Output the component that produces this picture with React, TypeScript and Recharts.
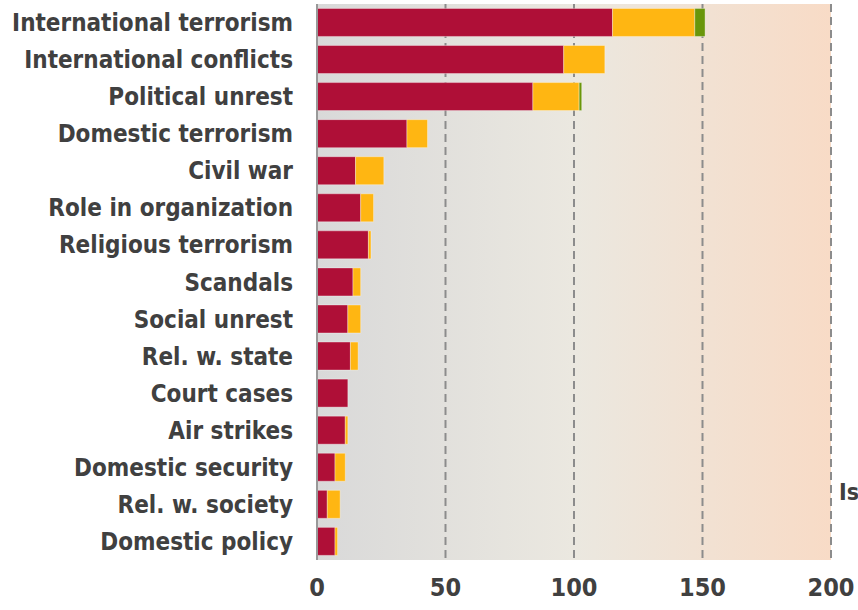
import React from 'react';
import { BarChart, Bar, XAxis, YAxis, CartesianGrid } from 'recharts';

const categories = [
  'International terrorism',
  'International conflicts',
  'Political unrest',
  'Domestic terrorism',
  'Civil war',
  'Role in organization',
  'Religious terrorism',
  'Scandals',
  'Social unrest',
  'Rel. w. state',
  'Court cases',
  'Air strikes',
  'Domestic security',
  'Rel. w. society',
  'Domestic policy',
];
const seriesRed = [115, 96, 84, 35, 15, 17, 20, 14, 12, 13, 12, 11, 7, 4, 7];
const seriesYellow = [32, 16, 18, 8, 11, 5, 1, 3, 5, 3, 0, 1, 4, 5, 1];
const seriesGreen = [4, 0, 1, 0, 0, 0, 0, 0, 0, 0, 0, 0, 0, 0, 0];
const xTicks = [0, 50, 100, 150, 200];

const data = categories.map((name, i) => ({
  name,
  red: seriesRed[i],
  yellow: seriesYellow[i],
  green: seriesGreen[i],
}));

const FONT = '"DejaVu Sans Condensed", "DejaVu Sans", sans-serif';
const TEXT = '#404040';

export default function App() {
  return (
    <div style={{ position: 'absolute', left: 0, top: 0, width: 858, height: 610, background: '#fff', overflow: 'hidden' }}>
      <BarChart
        width={858}
        height={610}
        data={data}
        layout="vertical"
        margin={{ top: 4, right: 27, bottom: 0, left: 0 }}
        barCategoryGap="12%"
      >
        <defs>
          <linearGradient id="bgGrad" x1="0" y1="0" x2="1" y2="0">
            <stop offset="0%" stopColor="#d9d9d9" />
            <stop offset="50%" stopColor="#ebe8e0" />
            <stop offset="100%" stopColor="#f8dbc6" />
          </linearGradient>
        </defs>
        <CartesianGrid
          horizontal={false}
          vertical={true}
          fill="url(#bgGrad)"
          fillOpacity={1}
          stroke="#8c8c8c"
          strokeDasharray="8 5"
          strokeWidth={2}
        />
        <XAxis
          type="number"
          domain={[0, 200]}
          ticks={xTicks}
          axisLine={false}
          tickLine={false}
          tickSize={0}
          tickMargin={18}
          height={50}
          tick={{ fill: TEXT, fontSize: 25, fontWeight: 700, fontFamily: FONT }}
        />
        <YAxis
          type="category"
          dataKey="name"
          width={317}
          interval={0}
          axisLine={{ stroke: '#999', strokeWidth: 2 }}
          tickLine={false}
          tickSize={0}
          tickMargin={24}
          tick={{ fill: TEXT, fontSize: 24, fontWeight: 700, fontFamily: FONT }}
        />
        <Bar dataKey="red" stackId="s" fill="#af0f37" stroke="rgba(255,255,255,0.35)" strokeWidth={1} isAnimationActive={false} />
        <Bar dataKey="yellow" stackId="s" fill="#ffb612" stroke="rgba(255,255,255,0.35)" strokeWidth={1} isAnimationActive={false} />
        <Bar dataKey="green" stackId="s" fill="#6a960a" stroke="rgba(255,255,255,0.35)" strokeWidth={1} isAnimationActive={false} />
      </BarChart>
      <div
        style={{
          position: 'absolute',
          left: 839,
          top: 479,
          fontFamily: FONT,
          fontWeight: 700,
          fontSize: 23,
          lineHeight: '26px',
          color: TEXT,
          whiteSpace: 'nowrap',
        }}
      >
        Is
      </div>
    </div>
  );
}
